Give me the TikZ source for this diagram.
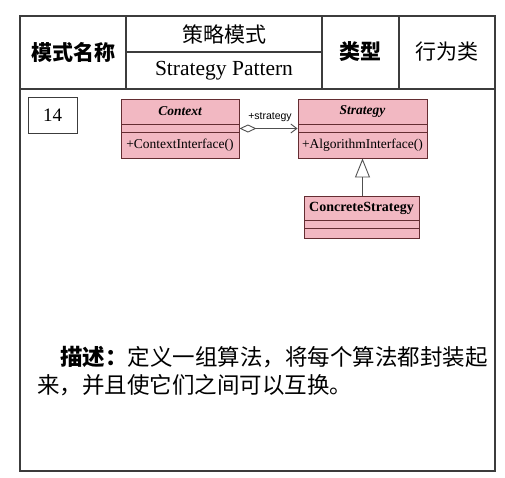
\documentclass[tikz,border=0pt]{standalone}
\usepackage{fontspec}
\setmainfont{Liberation Serif}
\newfontfamily\cjk{Noto Sans CJK SC}
\newfontfamily\sansf{Liberation Sans}
\usetikzlibrary{arrows.meta}
\definecolor{umlpink}{RGB}{242,184,194}
\definecolor{umlborder}{RGB}{100,45,50}
\definecolor{frameline}{RGB}{60,60,60}
\definecolor{connline}{RGB}{80,80,80}
\tikzset{
  frame/.style={draw=frameline, line width=1.1pt},
  cls/.style={draw=umlborder, fill=umlpink, line width=0.9pt, rectangle, inner sep=0pt},
  comp/.style={draw=umlborder, line width=0.9pt},
  hdrbold/.style={font=\cjk\bfseries\fontsize{21pt}{25pt}\selectfont, inner sep=0pt},
  hdrreg/.style={font=\cjk\fontsize{21pt}{25pt}\selectfont, inner sep=0pt},
  conn/.style={draw=connline, line width=0.9pt},
  txt/.style={inner sep=0pt, anchor=west}
}
\begin{document}
\begin{tikzpicture}[x=1pt,y=-1pt]
\useasboundingbox (0,0) rectangle (505,477);
% frame
\draw[frame] (20,16) rectangle (495,471);
\draw[frame] (20,89) -- (495,89);
\draw[frame] (126,16) -- (126,89);
\draw[frame] (322,16) -- (322,89);
\draw[frame] (399,16) -- (399,89);
\draw[frame] (126,52) -- (322,52);
% header texts
\node[hdrbold] (h1) at (73,52) {模式名称};
\node[hdrreg] (h2) at (224,34) {策略模式};
\node[inner sep=0pt, font=\fontsize{21.5pt}{25pt}\selectfont] (h3) at (224,71) {Strategy Pattern};
\node[hdrbold] (h4) at (360,52) {类型};
\node[hdrreg] (h5) at (447,52) {行为类};
% number box
\node[draw=frameline, line width=1pt, minimum width=49pt, minimum height=36pt, inner sep=0pt, font=\fontsize{19pt}{22pt}\selectfont] (num) at (52.5,115) {14};
% classes
\node[cls, minimum width=118pt, minimum height=59pt] (ctx) at (180,128.5) {};
\node[inner sep=0pt, font=\bfseries\itshape\fontsize{13.5pt}{16pt}\selectfont] (ctxn) at (180,111.5) {Context};
\draw[comp] (121,124) -- (239,124);
\draw[comp] (121,132) -- (239,132);
\node[inner sep=0pt, font=\fontsize{13.5pt}{16pt}\selectfont] (ctxo) at (180,145) {+ContextInterface()};

\node[cls, minimum width=129pt, minimum height=59pt] (strat) at (362.5,128.5) {};
\node[inner sep=0pt, font=\bfseries\itshape\fontsize{13.5pt}{16pt}\selectfont] (stratn) at (362.5,111.5) {Strategy};
\draw[comp] (298,124) -- (427,124);
\draw[comp] (298,132) -- (427,132);
\node[inner sep=0pt, font=\fontsize{13.5pt}{16pt}\selectfont] (strato) at (362.5,145) {+AlgorithmInterface()};

\node[cls, minimum width=115pt, minimum height=42pt] (conc) at (361.5,217) {};
\node[inner sep=0pt, font=\bfseries\fontsize{14pt}{16pt}\selectfont] (concn) at (361.5,208) {ConcreteStrategy};
\draw[comp] (304,220) -- (419,220);
\draw[comp] (304,228) -- (419,228);
% connectors
\draw[conn, {Diamond[open,length=17pt,width=8pt]}-{Straight Barb[length=6pt,width=9pt]}] (ctx.east) -- (strat.west);
\node[inner sep=0pt, font=\sansf\fontsize{10.5pt}{12pt}\selectfont] (lbl) at (270,117) {+strategy};
\draw[conn, -{Triangle[open,length=19pt,width=15pt]}] (strat.south |- conc.north) -- (strat.south);
% description
\node[txt, font=\cjk\fontsize{22.5pt}{26pt}\selectfont] (d1) at (60,357) {{\bfseries 描述：}定义一组算法，将每个算法都封装起};
\node[txt, font=\cjk\fontsize{22.5pt}{26pt}\selectfont] (d2) at (37,385) {来，并且使它们之间可以互换。};
\end{tikzpicture}
\end{document}
